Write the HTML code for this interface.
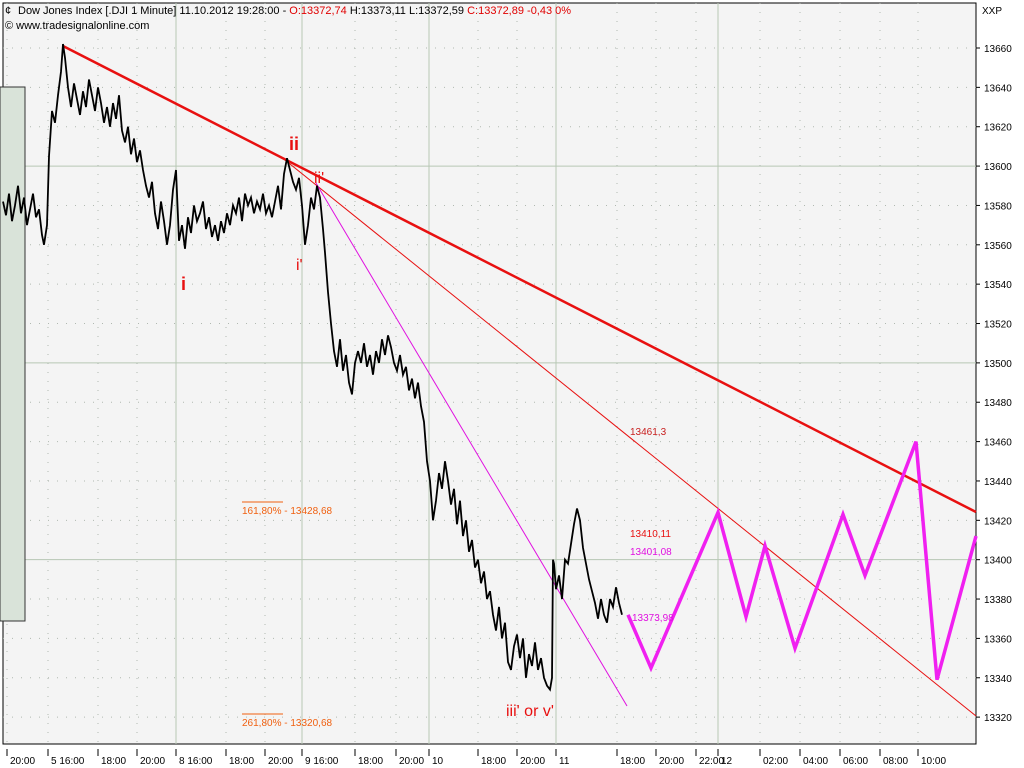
<!DOCTYPE html>
<html><head><meta charset="utf-8">
<style>
html,body{margin:0;padding:0;background:#fff;width:1024px;height:768px;overflow:hidden;font-family:"Liberation Sans",sans-serif}
svg{display:block}
</style></head>
<body>
<svg id="chart" width="1024" height="768" xmlns="http://www.w3.org/2000/svg">
<rect x="0" y="0" width="1024" height="768" fill="#ffffff"/>
<rect x="3" y="3" width="973" height="741" fill="#f4f4f4" stroke="#000" stroke-width="1"/>
<g id="grid"></g>
<rect x="0" y="87" width="25" height="534" fill="#d9e3d9" stroke="#333" stroke-width="1"/>
<g id="marks"></g>
<g id="axes"></g>
<text x="18" y="14" font-size="11" fill="#000">Dow Jones Index [.DJI  1 Minute] 11.10.2012 19:28:00 - <tspan fill="#e00000">O:13372,74</tspan> H:13373,11 L:13372,59 <tspan fill="#e00000">C:13372,89 -0,43 0%</tspan></text>
<text x="5" y="29" font-size="11" fill="#000">© www.tradesignalonline.com</text>
<text x="5" y="14" font-size="11" fill="#000">¢</text>
<text x="982" y="14" font-size="10" fill="#000">XXP</text>
</svg>
<script>
const yTicks=[13320,13340,13360,13380,13400,13420,13440,13460,13480,13500,13520,13540,13560,13580,13600,13620,13640,13660];
const xTickLabels=["20:00","5 16:00","18:00","20:00","8 16:00","18:00","20:00","9 16:00","18:00","20:00","10","18:00","20:00","11","18:00","20:00","22:00","12","02:00","04:00","06:00","08:00","10:00"];
const xTickTimes=[4,45,95,134,173,223,262,299,352,393,426,475,514,553,614,653,693,715,757,797,837,877,915];
const dayBreaks=[44,173,299,426,553,715];
const priceTimes=[0,3,6,9,12,15,18,21,24,27,30,33,36,39,41,44,46,49,52,55,58,60,62,65,68,71,74,77,80,83,86,89,92,95,98,101,104,107,110,113,116,119,122,125,128,131,134,137,140,143,146,149,152,155,158,161,164,167,170,173,176,179,182,185,188,191,194,197,200,203,206,209,212,215,218,221,224,227,230,233,236,239,242,245,248,251,254,257,260,263,266,269,272,275,278,281,284,287,290,293,296,299,302,305,308,311,314,317,320,322,325,328,331,334,337,340,343,346,349,352,355,358,361,364,367,370,373,376,379,382,385,388,391,394,397,400,403,406,409,412,415,418,421,424,427,430,433,436,439,442,445,448,451,454,457,460,463,466,469,472,475,478,481,484,487,490,493,496,499,502,505,508,511,514,517,520,523,526,529,532,535,538,541,544,547,549,550,551,553,556,559,562,565,568,571,574,577,580,583,586,589,592,595,598,601,604,607,610,613,616,619,622,625];
const prices=[13582,13575,13586,13572,13580,13590,13576,13584,13570,13578,13586,13574,13578,13565,13560,13570,13605,13628,13622,13636,13648,13662,13655,13640,13630,13642,13634,13626,13638,13630,13644,13636,13628,13640,13632,13622,13630,13620,13632,13624,13636,13618,13612,13620,13606,13614,13602,13608,13598,13590,13584,13592,13576,13568,13582,13572,13560,13570,13588,13598,13562,13570,13558,13574,13566,13580,13572,13576,13582,13568,13574,13564,13570,13562,13572,13566,13576,13570,13580,13576,13584,13572,13586,13580,13584,13576,13582,13578,13586,13576,13580,13574,13582,13590,13578,13596,13604,13598,13592,13588,13594,13580,13560,13570,13584,13578,13590,13584,13568,13556,13536,13520,13506,13498,13512,13496,13504,13490,13484,13500,13506,13500,13510,13498,13504,13494,13506,13500,13512,13504,13514,13508,13500,13496,13504,13494,13498,13486,13492,13482,13490,13478,13470,13450,13440,13420,13430,13444,13436,13450,13440,13428,13436,13418,13430,13412,13420,13404,13410,13396,13400,13388,13394,13380,13384,13372,13364,13376,13360,13368,13348,13344,13356,13362,13350,13360,13340,13352,13346,13358,13344,13350,13340,13336,13334,13340,13400,13398,13385,13392,13380,13400,13398,13408,13418,13426,13420,13406,13398,13390,13384,13378,13370,13380,13372,13368,13380,13376,13386,13378,13372];
const projTimes=[625,648,715,743,762,792,840,862,913,934,973];
const projValues=[13372,13345,13424,13371,13407,13355,13423,13392,13460,13339,13412];
const NS='http://www.w3.org/2000/svg';
const X0=3, Y0=48, VTOP=13660, PX=1.968;
function xS(t){return X0+t;}
function yS(v){return Y0+(VTOP-v)*PX;}
function mk(tag,attrs,parent){const e=document.createElementNS(NS,tag);for(const k in attrs)e.setAttribute(k,attrs[k]);parent.appendChild(e);return e;}
const grid=document.getElementById('grid'), marks=document.getElementById('marks'), axes=document.getElementById('axes');
yTicks.forEach(v=>{
  const y=yS(v); const solid=(v%100===0);
  const l=mk('line',{x1:3,x2:976,y1:y,y2:y,stroke:solid?'#b7c7b4':'#b0b8b0','stroke-width':1,'stroke-dasharray':solid?'':'1,8'},grid);
  
  
  const tk=mk('line',{x1:976,x2:980,y1:y,y2:y,stroke:'#000'},axes);
  
  
  const t=mk('text',{x:984,y:y+4,'font-size':10,fill:'#000'},axes);t.textContent=v;
  
  
});
xTickTimes.forEach((tt,i)=>{
  const x=xS(tt);
  const isDay=dayBreaks.includes(tt);
  const l=mk('line',{x1:x,x2:x,y1:3,y2:744,stroke:isDay?'#b7c7b4':'#b0b8b0','stroke-width':1,'stroke-dasharray':isDay?'':'1,8'},grid);
  
  
  const tk=mk('line',{x1:x,x2:x,y1:749,y2:756,stroke:'#000'},axes);
  
  
  const t=mk('text',{x:x+3,y:764,'font-size':10,fill:'#000'},axes);t.textContent=xTickLabels[i];
  
  
});
function line(x1,y1,x2,y2,c,w,name){const l=mk('line',{x1,y1,x2,y2,stroke:c,'stroke-width':w},marks);}
line(63,46,976,512,'#e81010',2.5,'main-trendline');
line(285,160,976,716,'#e81010',1,'thin-trendline');
line(316,183,627,706,'#e010e0',1,'magenta-trendline');
const pp=mk('polyline',{points:priceTimes.map((t,i)=>xS(t)+','+yS(prices[i])).join(' '),fill:'none',stroke:'#000','stroke-width':1.8},marks);


const pj=mk('polyline',{points:projTimes.map((t,i)=>xS(t)+','+yS(projValues[i])).join(' '),fill:'none',stroke:'#f020f0','stroke-width':3.5},marks);


function label(x,y,txt,c,fs,name,bold){const t=mk('text',{x,y,'font-size':fs,fill:c,'font-weight':bold?'bold':'normal'},marks);t.textContent=txt;}
label(289,150,'ii','#e81010',18,'wave-ii-label',true);
label(314,183,"ii'",'#e81010',16,'wave-ii-prime-label',false);
label(181,290,'i','#e81010',18,'wave-i-label',true);
label(296,270,"i'",'#e81010',16,'wave-i-prime-label',false);
label(506,716,"iii' or v'",'#e81010',16,'wave-iii-label',false);
label(630,435,'13461,3','#c82020',10,'level-13461',false);
label(630,537,'13410,11','#e81010',10,'level-13410',false);
label(630,555,'13401,08','#e010e0',10,'level-13401',false);
label(632,621,'13373,98','#e010e0',10,'level-13373',false);
label(242,514,'161,80% - 13428,68','#f06010',10,'fib-161-label',false);
label(242,726,'261,80% - 13320,68','#f06010',10,'fib-261-label',false);
line(242,502,283,502,'#f06010',1,'fib-161-line');
line(242,714,283,714,'#f06010',1,'fib-261-line');
</script>
</body></html>
